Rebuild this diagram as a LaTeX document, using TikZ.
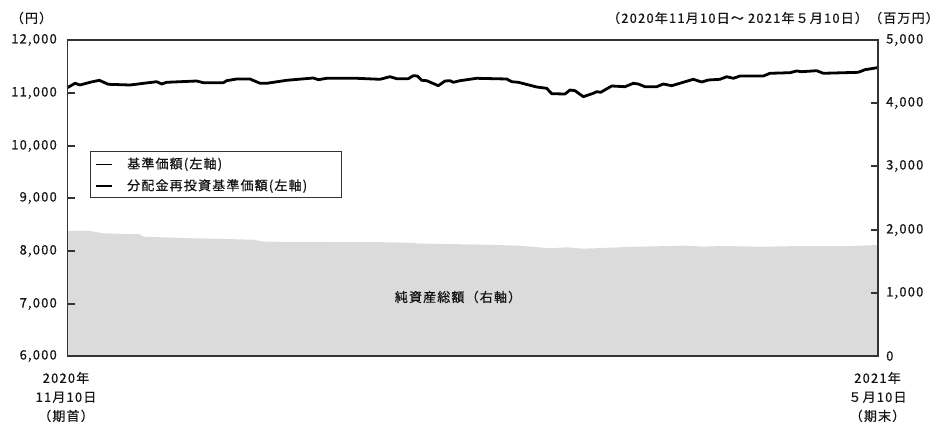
\documentclass[tikz,border=0pt]{standalone}
\usepackage{fontspec}
\setmainfont{Noto Sans CJK JP}[LetterSpace=9,FakeBold=0.6]
\begin{document}
\begin{tikzpicture}[x=1pt,y=-1pt,
  lbl/.style={inner sep=0pt, font=\fontsize{13}{15}\selectfont, text=black!92},
  axisline/.style={draw=black!80, line width=1.3pt},
  tickline/.style={draw=black!80, line width=1.1pt},
  navline/.style={draw=black, line width=2.8pt, line join=round},
  legendbox/.style={draw=black!80, line width=1.1pt, fill=white}]
\useasboundingbox (0,0) rectangle (945,422);
% net assets area
\fill[black!14] (67.3,231) -- (90,231) -- (103.3,233.3) -- (140,234.3) -- (143.3,236.7)
  -- (193.3,238.3) -- (253.3,239.7) -- (263.3,241.7) -- (393.3,242.3) -- (426.7,243.7)
  -- (480,244.6) -- (520,245.7) -- (550,248.3) -- (566.7,247.3) -- (583.3,248.7)
  -- (636.7,246.7) -- (686.7,245.7) -- (703.3,246.7) -- (720,246) -- (763.3,246.7)
  -- (803.3,246) -- (853.3,246) -- (878,245) -- (878,356) -- (67.3,356) -- cycle;
% NAV line
\draw[navline] (67.3,87.7) -- (75,83.3) -- (80,85) -- (90,82.3) -- (99.3,80.3) -- (108.3,84.3)
  -- (130,85) -- (156.7,81.7) -- (161.7,84) -- (166.7,82.3) -- (196.7,81) -- (203.3,82.7)
  -- (223.3,82.7) -- (226.7,80.7) -- (236.7,79) -- (250,79) -- (260,83.3) -- (266.7,83.3)
  -- (286.7,80.3) -- (313.3,78) -- (318.3,79.7) -- (326.7,78.3) -- (356.7,78.3) -- (380,79.3)
  -- (390,76.7) -- (396.7,78.7) -- (408.3,78.7) -- (413.3,75.7) -- (417.3,76) -- (421.7,80.3)
  -- (426.7,80.7) -- (438.3,85.7) -- (445,81) -- (450,80.7) -- (453.3,82.3) -- (460,80.7)
  -- (476.7,78.3) -- (506.7,79) -- (511.7,81.7) -- (518.3,82.3) -- (536.7,87) -- (546.7,88.3)
  -- (551.7,93.7) -- (565,94) -- (570,90) -- (575,90.7) -- (583.3,96.7) -- (593.3,93.3)
  -- (596.7,91.7) -- (600.7,92.3) -- (611.7,86) -- (625,86.7) -- (633.3,83.3) -- (638.3,84)
  -- (645,86.7) -- (656.7,86.7) -- (663.3,84) -- (671.7,85.7) -- (693.3,79.3) -- (701.7,82)
  -- (708.3,80) -- (720,79.3) -- (726.7,76.7) -- (733.3,78.3) -- (740,76) -- (763.3,76)
  -- (770,73.3) -- (790,72.7) -- (796.7,71) -- (801.7,71.7) -- (816.7,70.7) -- (823.3,73.3)
  -- (858.3,72.3) -- (865,69.7) -- (877.3,67.7);
% frame
\draw[axisline] (67.3,40) rectangle (878,356);
% ticks left
\foreach \yy in {93,146,198,251,304}
  \draw[tickline] (67.3,\yy) -- (74.5,\yy);
% ticks right
\foreach \yy in {103,166,230,293}
  \draw[tickline] (878,\yy) -- (870.8,\yy);
% left labels
\node[lbl, anchor=east] (l12) at (57,40) {12,000};
\node[lbl, anchor=east] (l11) at (57,93) {11,000};
\node[lbl, anchor=east] (l10) at (57,146) {10,000};
\node[lbl, anchor=east] (l9) at (57,198) {9,000};
\node[lbl, anchor=east] (l8) at (57,251) {8,000};
\node[lbl, anchor=east] (l7) at (57,304) {7,000};
\node[lbl, anchor=east] (l6) at (57,356) {6,000};
% right labels
\node[lbl, anchor=west] (r5) at (886,40) {5,000};
\node[lbl, anchor=west] (r4) at (886,103) {4,000};
\node[lbl, anchor=west] (r3) at (886,166) {3,000};
\node[lbl, anchor=west] (r2) at (886,230) {2,000};
\node[lbl, anchor=west] (r1) at (886,293) {1,000};
\node[lbl, anchor=west] (r0) at (886,356) {0};
% units
\node[lbl] (yen) at (31.5,18) {（円）};
\node[lbl, anchor=east] (period) at (939,18) {（2020年11月10日～ 2021年５月10日）（百万円）};
% x labels
\node[lbl, align=center] (start) at (66,397) {2020年\\[4pt]11月10日\\[4pt]（期首）};
\node[lbl, align=center] (end) at (877.5,397) {2021年\\[4pt]５月10日\\[4pt]（期末）};
% area label
\node[lbl] (assets) at (458,297) {純資産総額（右軸）};
% legend
\draw[legendbox] (90.7,151.7) rectangle (341.7,197.3);
\coordinate (la1) at (96,164.3);
\coordinate (lb1) at (112,164.3);
\coordinate (la2) at (96,186);
\coordinate (lb2) at (112,186);
\draw[draw=black, line width=0.9pt] (la1) -- (lb1);
\draw[draw=black, line width=2.8pt] (la2) -- (lb2);
\node[lbl, anchor=west] (leg1) at (127,164.3) {基準価額(左軸)};
\node[lbl, anchor=west] (leg2) at (127,186) {分配金再投資基準価額(左軸)};
\end{tikzpicture}
\end{document}
